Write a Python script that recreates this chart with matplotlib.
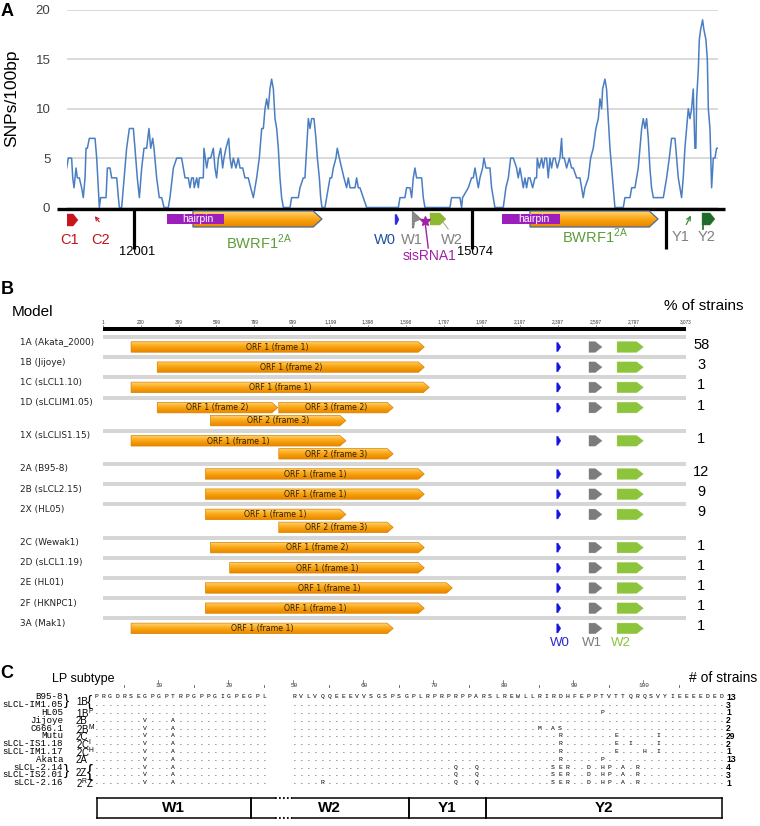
import matplotlib
matplotlib.use('Agg')
import matplotlib.pyplot as plt
import matplotlib.transforms as mtransforms
from matplotlib.patches import Polygon, Rectangle
from matplotlib.colors import LinearSegmentedColormap
from itertools import groupby
import numpy as np

plt.rcParams['font.family'] = ['Liberation Sans', 'DejaVu Sans']

W, H = 760, 826

# ---------------- panel A data: SNP density along the genome ----------------
snp_pos = [11389, 11404, 11434, 11444, 11456, 11474, 11486, 11504, 11525, 11540, 11556, 11565, 11577, 11595,
           11647, 11662, 11677, 11686, 11698, 11747, 11759, 11783, 11798, 11844, 11859, 11868, 11889, 11904,
           11934, 11959, 11995, 12010, 12031, 12050, 12071, 12092, 12116, 12137, 12153, 12171, 12183, 12207,
           12231, 12253, 12274, 12313, 12328, 12359, 12389, 12434, 12450, 12465, 12495, 12510, 12525, 12540,
           12549, 12571, 12586, 12595, 12631, 12637, 12662, 12677, 12698, 12722, 12737, 12752, 12768, 12789,
           12807, 12819, 12837, 12862, 12874, 12889, 12904, 12928, 12949, 12965, 12989, 13010, 13040, 13062,
           13086, 13101, 13116, 13140, 13162, 13177, 13192, 13207, 13222, 13237, 13252, 13268, 13283, 13298,
           13313, 13328, 13343, 13359, 13419, 13434, 13495, 13510, 13540, 13555, 13571, 13586, 13601, 13616,
           13637, 13655, 13668, 13686, 13698, 13710, 13737, 13752, 13783, 13798, 13813, 13837, 13849, 13868,
           13889, 13910, 13934, 13949, 13965, 14010, 14025, 14040, 14055, 14086, 14116,
           14404, 14419, 14464, 14479, 14510, 14525, 14540, 14555, 14570, 14616, 14631, 14646, 14873, 14888,
           14964, 14979, 14988, 15040, 15070, 15085, 15101, 15116, 15131, 15146, 15170, 15182, 15201, 15237,
           15252, 15267, 15282, 15358, 15382, 15404, 15425, 15449, 15479, 15494, 15510, 15525, 15540, 15555,
           15570, 15585, 15601, 15625, 15646, 15661, 15667, 15685, 15707, 15722, 15737, 15752, 15767, 15782,
           15797, 15813, 15828, 15849, 15873, 15888, 15897, 15913, 15934, 15958, 15979, 15994, 16025, 16055,
           16070, 16085, 16100, 16131, 16152, 16176, 16200, 16222, 16237, 16252, 16261, 16282, 16297, 16313,
           16328, 16343, 16358, 16373, 16449, 16464, 16510, 16525, 16555, 16570, 16585, 16600, 16616, 16631,
           16646, 16661, 16676, 16691, 16706, 16722, 16813, 16828, 16843, 16867, 16888, 16919, 16934, 16949,
           16964, 16979, 16994, 17009, 17025, 17040, 17055, 17070, 17085, 17100, 17109, 17116, 17131, 17140,
           17152, 17170, 17182, 17200, 17213, 17222, 17237, 17252, 17267, 17282, 17297, 17303]
snp_val = [4, 5, 5, 3, 2, 4, 3, 3, 2, 1, 3, 6, 6, 7,
           7, 5, 2, 0, 1, 1, 4, 4, 3, 3, 1, 0, 0, 2,
           6, 8, 8, 6, 3, 1, 4, 6, 6, 8, 6, 7, 6, 3,
           1, 1, 0, 0, 1, 4, 5, 5, 4, 3, 3, 2, 3, 3,
           2, 3, 2, 3, 3, 6, 4, 5, 5, 6, 4, 3, 5, 6,
           4, 5, 6, 7, 5, 4, 5, 4, 5, 4, 4, 3, 3, 2,
           1, 2, 3, 5, 8, 8, 10, 11, 10, 12, 13, 12, 9, 8,
           6, 3, 1, 0, 0, 1, 1, 2, 3, 3, 6, 9, 8, 9,
           9, 7, 5, 3, 1, 0, 0, 1, 3, 3, 4, 5, 6, 5,
           4, 3, 2, 3, 2, 2, 3, 2, 2, 1, 0,
           0, 1, 1, 2, 2, 1, 3, 4, 3, 3, 1, 0, 0, 1,
           1, 0, 1, 2, 3, 3, 4, 3, 2, 3, 4, 5, 4, 4,
           2, 1, 0, 0, 2, 3, 5, 5, 4, 3, 4, 3, 2, 3,
           2, 3, 3, 2, 3, 3, 5, 4, 5, 4, 5, 5, 3, 5,
           4, 5, 5, 4, 5, 7, 5, 5, 4, 5, 4, 4, 3, 3,
           2, 1, 2, 3, 5, 6, 8, 9, 11, 10, 12, 13, 12, 9,
           6, 4, 2, 0, 0, 1, 1, 2, 2, 3, 4, 6, 8, 9,
           8, 9, 7, 4, 2, 1, 1, 2, 3, 5, 7, 7, 5, 3,
           2, 1, 3, 6, 8, 10, 9, 10, 12, 6, 6, 11, 14, 17,
           18, 19, 18, 17, 15, 10, 8, 2, 5, 5, 6, 6]

# genome features under the plot (bp)
hairpins = [(12301, 12819), (15346, 15873)]
bwrf1 = [(12537, 13710), (15601, 16765)]
repeat_bars = [12001, 15074, 16837]
repeat_labels = ['12001', '15074', '']
c1 = (11347, 11492)
c2 = (11630, 11700)
w0 = (14374, 14410)
w1 = (14530, 14610)
sisrna1 = 14646
w2 = (14692, 14837)
y1 = (17010, 17075)
y2 = (17165, 17282)
gene_labels = [('C1', 11419, '#C0151B'), ('C2', 11701, '#C0151B'), ('W0', 14283, '#1F4FA0'),
               ('W1', 14528, '#808080'), ('W2', 14892, '#808080'), ('Y1', 16973, '#808080'),
               ('Y2', 17210, '#808080')]

# ---------------- panel B data: BWRF1 ORF models ----------------
models = ['1A (Akata_2000)', '1B (Jijoye)', '1C (sLCL1.10)', '1D (sLCLIM1.05)', '1X (sLCLIS1.15)',
          '2A (B95-8)', '2B (sLCL2.15)', '2X (HL05)', '2C (Wewak1)', '2D (sLCL1.19)', '2E (HL01)',
          '2F (HKNPC1)', '3A (Mak1)']
pct_strains = [58, 3, 1, 1, 1, 12, 9, 9, 1, 1, 1, 1, 1]
# (lane, start, end, label)
orfs = [
    [(0, 149, 1694, 'ORF 1 (frame 1)')],
    [(0, 287, 1694, 'ORF 1 (frame 2)')],
    [(0, 149, 1720, 'ORF 1 (frame 1)')],
    [(0, 287, 922, 'ORF 1 (frame 2)'), (0, 927, 1530, 'ORF 3 (frame 2)'), (1, 567, 1281, 'ORF 2 (frame 3)')],
    [(0, 149, 1281, 'ORF 1 (frame 1)'), (1, 927, 1530, 'ORF 2 (frame 3)')],
    [(0, 541, 1694, 'ORF 1 (frame 1)')],
    [(0, 541, 1694, 'ORF 1 (frame 1)')],
    [(0, 541, 1281, 'ORF 1 (frame 1)'), (1, 927, 1530, 'ORF 2 (frame 3)')],
    [(0, 567, 1694, 'ORF 1 (frame 2)')],
    [(0, 668, 1694, 'ORF 1 (frame 1)')],
    [(0, 541, 1842, 'ORF 1 (frame 1)')],
    [(0, 541, 1694, 'ORF 1 (frame 1)')],
    [(0, 149, 1530, 'ORF 1 (frame 1)')],
]
w_exons = [('W0', 2392, 2413, '#1515DC'), ('W1', 2562, 2630, '#7C7C7C'), ('W2', 2710, 2848, '#8CC43C')]
ruler = [1, 200, 399, 599, 799, 999, 1199, 1398, 1598, 1797, 1997, 2197, 2397, 2597, 2797, 3073]

# ---------------- panel C data: LP protein alignment ----------------
ref_w1 = 'PRGDRSEGPGPTRPGPPGIGPEGPL'                                       # residues 1-25
ref_w2y = 'RVLVQQEEEVVSGSPSGPLRPRPRPPARSLREWLLRIRDHFEPPTVTTQRQSVYIEEEEDED'  # residues 50-111
strains = ['B95-8', 'sLCL-IM1.05', 'HL05', 'Jijoye', 'C666.1', 'Mutu', 'sLCL-IS1.18', 'sLCL-IM1.17',
           'Akata', 'sLCL-2.14', 'sLCL-IS2.01', 'sLCL-2.16']
subtypes = ['1B', '1B', '1B$^\\mathregular{P}$', '2B', '2B$^\\mathregular{M}$', '2C', '2C$^\\mathregular{I}$',
            '2C$^\\mathregular{H}$', '2A', '2Z', '2Z', '2$^\\mathregular{R}$Z']
n_strains = [13, 3, 1, 2, 2, 29, 2, 1, 13, 4, 3, 1]
w1_var = {8: 'V', 12: 'A'}
z_var = {73: 'Q', 76: 'Q', 87: 'S', 88: 'E', 89: 'R', 92: 'D', 94: 'H', 95: 'P', 97: 'A', 99: 'R'}
substitutions = [
    {}, {}, {94: 'P'}, {**w1_var}, {**w1_var, 85: 'M', 87: 'A', 88: 'S'},
    {**w1_var, 88: 'R', 96: 'E', 102: 'I'},
    {**w1_var, 88: 'R', 96: 'E', 98: 'I', 102: 'I'},
    {**w1_var, 88: 'R', 96: 'E', 100: 'H', 102: 'I'},
    {**w1_var, 88: 'R', 94: 'P'},
    {**w1_var, **z_var}, {**w1_var, **z_var}, {**w1_var, **z_var, 54: 'R'},
]
lp_exons = [('W1', 1.14, 23.1), ('W2', 23.1, 66.4), ('Y1', 66.4, 77.4), ('Y2', 77.4, 111.1)]
num_ticks = [10, 20, 50, 60, 70, 80, 90, 100]
half_ticks = [5, 15, 25, 55, 65, 75, 85, 95, 105]


def box(x0, y0, x1, y1):
    return [x0 / W, 1 - y1 / H, (x1 - x0) / W, (y1 - y0) / H]


orf_cmap = LinearSegmentedColormap.from_list('orf', ['#FFD778', '#FDB22C', '#F59A06', '#E98600'])
grad = np.linspace(0, 1, 32).reshape(-1, 1)


def gradient_arrow(ax, x0, x1, yc, h, head, ec='#D88000', lw=0.5, z=3):
    verts = [(x0, yc - h / 2), (x1 - head, yc - h / 2), (x1, yc), (x1 - head, yc + h / 2), (x0, yc + h / 2)]
    poly = Polygon(verts, closed=True, fc='none', ec=ec, lw=lw, zorder=z + 0.5)
    ax.add_patch(poly)
    im = ax.imshow(grad, cmap=orf_cmap, extent=(x0, x1, yc + h / 2, yc - h / 2), aspect='auto',
                   interpolation='bilinear', zorder=z)
    im.set_clip_path(poly)


def flat_arrow(ax, x0, x1, yc, h, head, color, z=3):
    verts = [(x0, yc - h / 2), (x1 - head, yc - h / 2), (x1, yc), (x1 - head, yc + h / 2), (x0, yc + h / 2)]
    ax.add_patch(Polygon(verts, closed=True, fc=color, ec=color, lw=0.3, zorder=z))


fig = plt.figure(figsize=(W / 100, H / 100), dpi=100)

# ================= A =================
axA = fig.add_axes(box(67, 10, 718, 207.5))
axA.plot(snp_pos, snp_val, color='#4A7EC2', lw=1.1, zorder=3)
axA.set_xlim(11392, 17310)
axA.set_ylim(0, 20)
axA.set_yticks([0, 5, 10, 15, 20])
axA.set_xticks([])
axA.grid(axis='y', color='#D3D3D3', lw=1.2)
axA.set_axisbelow(True)
for s in axA.spines.values():
    s.set_visible(False)
axA.tick_params(axis='y', length=0, pad=12, labelsize=9.5, labelcolor='#404040')
axA.set_ylabel('SNPs/100bp', fontsize=12.5)
axA.yaxis.set_label_coords(-0.074, 0.554)

axG = fig.add_axes(box(67, 200, 718, 262), zorder=5)
axG.axis('off')
xl = axA.get_xlim()
axG.plot([xl[0] - 90, xl[1] + 65], [208.5, 208.5], color='black', lw=2.4, solid_capstyle='butt', clip_on=False)
for xb, lab in zip(repeat_bars, repeat_labels):
    axG.plot([xb, xb], [208.5, 249], color='black', lw=2.3, solid_capstyle='butt')
    if lab:
        axG.text(xb + 30, 252, lab, ha='center', va='center', fontsize=9.3)
for (s, e) in bwrf1:
    gradient_arrow(axG, s, e, 219, 16, 80, ec='#4F6A8C', lw=0.9, z=3)
    axG.text((s + e) / 2 + 10, 242 if s < 14000 else 236, 'BWRF1$^\\mathregular{2A}$', ha='center',
             va='center', fontsize=10.5, color='#5A9E35')
for (s, e) in hairpins:
    axG.add_patch(Rectangle((s, 213.5), e - s, 10.5, fc='#9C1EBC', ec='none', zorder=6))
    axG.text(s + (e - s) * 0.55, 218.8, 'hairpin', ha='center', va='center', fontsize=7.5, color='white',
             zorder=7)
# exons
flat_arrow(axG, c1[0], c1[1], 220, 12, 45, '#C8141C', z=4)
axG.annotate('', xy=(c2[0], 214), xytext=(c2[1], 224),
             arrowprops=dict(arrowstyle='->', color='#C8141C', lw=0.8, mutation_scale=6))
flat_arrow(axG, w0[0], w0[1], 219.5, 10, 22, '#2A2AE0', z=4)
axG.add_patch(Polygon([(w1[0], 211), (w1[1], 219), (w1[0] + 20, 222), (w1[0] + 15, 228), (w1[0], 228)],
                      closed=True, fc='#8A8A8A', ec='#6A6A6A', lw=0.4, zorder=4))
flat_arrow(axG, w2[0], w2[1], 219, 12, 55, '#8DB92E', z=4)
axG.plot([w2[0] + 90, w2[1] + 20], [218, 229], color='#9CA77A', lw=0.7, zorder=5)
axG.plot([sisrna1, sisrna1 + 30], [221, 248], color='#A020A8', lw=1.0, zorder=6)
axG.plot([sisrna1], [221], marker='*', ms=7, color='#A020A8', zorder=6)
axG.text(sisrna1 + 40, 256, 'sisRNA1', ha='center', va='center', fontsize=10, color='#A020A8')
axG.annotate('', xy=(y1[1], 213), xytext=(y1[0], 227),
             arrowprops=dict(arrowstyle='->', color='#3A8A3A', lw=0.9, mutation_scale=7))
flat_arrow(axG, y2[0], y2[1], 219, 12, 45, '#1F6B2A', z=4)
axG.plot([y2[0] + 12, y2[0] + 12], [219, 229], color='#1F6B2A', lw=1.2)
for lab, xg, c in gene_labels:
    axG.text(xg, 240 if lab[0] in 'CW' else 237, lab, ha='center', va='center', fontsize=10.5, color=c)
axG.set_xlim(xl)
axG.set_ylim(262, 200)

# ================= B =================
axB = fig.add_axes(box(103, 315, 686, 650))
axB.axis('off')
axB.plot([ruler[0], ruler[-1]], [329, 329], color='black', lw=2.9, solid_capstyle='butt')
for t in ruler:
    axB.plot([t, t], [324.5, 327.3], color='#444444', lw=0.4)
    axB.text(t, 322, f'{t:,}', ha='center', va='center', fontsize=3.4, color='#333333')

bl = mtransforms.blended_transform_factory(axB.transAxes, axB.transData)
ytrack = 337
for i, model in enumerate(models):
    n_lanes = max(o[0] for o in orfs[i]) + 1
    axB.plot([1, 3073], [ytrack, ytrack], color='#D6D6D6', lw=2.9, solid_capstyle='butt', zorder=1)
    for lane, s, e, lab in orfs[i]:
        yc = ytrack + 10 + 13 * lane
        gradient_arrow(axB, s, e, yc, 10.5, 32)
        axB.text((s + e) / 2, yc + 0.3, lab, ha='center', va='center', fontsize=5.6,
                 family='DejaVu Sans', color='#2E2000', zorder=6)
    for name, s, e, c in w_exons:
        hh = 9 if name == 'W0' else 10.5
        flat_arrow(axB, s, e, ytrack + 10, hh, min(35, (e - s) * 0.7), c)
    axB.text(-0.142, ytrack + 5, model, transform=bl, ha='left', va='center', fontsize=6.4,
             family='DejaVu Sans', color='#222222')
    axB.text(1.026, ytrack + 8, str(pct_strains[i]), transform=bl, ha='center', va='center',
             fontsize=10.5)
    ytrack += 20.2 + 13 * (n_lanes - 1)
for name, s, e, c in w_exons:
    axB.text(s - 35, 643, name, ha='left', va='center', fontsize=9.5, color=c if name != 'W0' else '#2A2AD0')
axB.set_xlim(1, 3073)
axB.set_ylim(650, 315)

# ================= C =================
axC = fig.add_axes(box(0, 670, 760, 826))
axC.axis('off')


def col(res):
    return res - 1 if res < 37 else res - 50 + 28.3


residues = list(range(1, 26)) + list(range(50, 112))
ref = dict(zip(residues, ref_w1 + ref_w2y))
for r, name in enumerate(strains):
    axC.text(-4.71, r, name, ha='right', va='center', family='Liberation Mono', fontsize=6.6)
    for res in residues:
        ch = ref[res] if r == 0 else substitutions[r].get(res, '.')
        axC.text(col(res), r, ch, ha='center', va='center', family='Liberation Mono', fontsize=4.6)
    axC.text(90.0, r + 0.05, str(n_strains[r]), ha='left', va='center', fontsize=6.2, fontweight='bold')

row = 0
for st, grp in groupby(subtypes):
    n = len(list(grp))
    mid = row + (n - 1) / 2
    if n > 1:
        axC.text(-4.55, mid, '}', ha='left', va='center', fontsize=11)
        axC.text(-2.86, mid + 0.2, st, ha='left', va='center', fontsize=7)
        axC.text(-1.3, mid + 0.2, '{', ha='left', va='center', fontsize=11 if row == 0 else 13)
    else:
        axC.text(-2.86, mid + 0.1, st, ha='left', va='center', fontsize=7)
    row += n

for t in num_ticks:
    axC.text(col(t), -1.45, str(t), ha='center', va='center', family='Liberation Mono', fontsize=4.3,
             color='#333333')
    axC.plot([col(t) - 0.15, col(t) - 0.15], [-2.15, -1.8], color='#555555', lw=0.5)
for t in half_ticks:
    axC.plot([col(t), col(t)], [-1.5, -1.25], color='#555555', lw=0.6)

top, bot = 12.95, 15.5
gap = (col(25) + 1.6, col(50) - 0.3)
x_first, x_last = col(lp_exons[0][1]), col(lp_exons[-1][2])
for yy in (top, bot):
    axC.plot([x_first, gap[0]], [yy, yy], color='black', lw=1.1)
    axC.plot([gap[1], x_last], [yy, yy], color='black', lw=1.1)
    axC.plot([gap[0], gap[1]], [yy, yy], color='black', lw=1.3, ls=(0, (1, 1.2)))
for name, s, e in lp_exons:
    for xb in (col(s), col(e)):
        axC.plot([xb, xb], [top, bot], color='black', lw=1.1)
    axC.text((col(s) + col(e)) / 2, (top + bot) / 2 + 0.05, name, ha='center', va='center', fontsize=11,
             fontweight='bold')
axC.set_xlim(-96 / 7, (760 - 96) / 7)
axC.set_ylim(16.54, -3.46)

# headers and panel letters
fig.text(7 / W, 1 - 12 / H, 'A', ha='center', va='center', fontsize=13, fontweight='bold')
fig.text(7 / W, 1 - 290 / H, 'B', ha='center', va='center', fontsize=13, fontweight='bold')
fig.text(7 / W, 1 - 674 / H, 'C', ha='center', va='center', fontsize=13, fontweight='bold')
fig.text(12 / W, 1 - 312 / H, 'Model', ha='left', va='center', fontsize=11)
fig.text(704 / W, 1 - 306 / H, '% of strains', ha='center', va='center', fontsize=11)
fig.text(52 / W, 1 - 679 / H, 'LP subtype', ha='left', va='center', fontsize=9)
fig.text(757 / W, 1 - 678 / H, '# of strains', ha='right', va='center', fontsize=10)

fig.savefig('out.png', dpi=100)
